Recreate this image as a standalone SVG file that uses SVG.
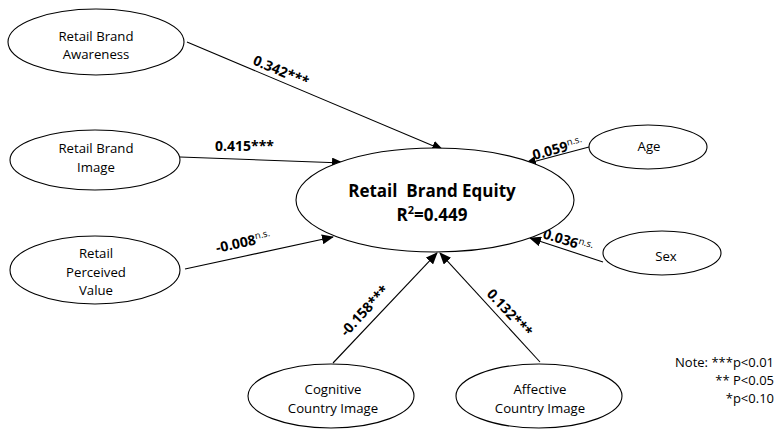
<svg xmlns="http://www.w3.org/2000/svg" width="779" height="430" viewBox="0 0 779 430">
<style>
.n{fill:#fff;stroke:#000;stroke-width:1.1}
.t{font-family:"Open Sans","Liberation Sans",sans-serif;font-size:13.2px;text-anchor:middle;fill:#000}
.c{font-family:"Open Sans","Liberation Sans",sans-serif;font-size:17px;font-weight:bold;text-anchor:middle;fill:#000}
.l{font-family:"Open Sans","Liberation Sans",sans-serif;font-size:14px;font-weight:bold;fill:#000}
.s{font-size:9.5px;font-weight:normal}
.e{stroke:#000;stroke-width:1.1;fill:none;marker-end:url(#ah)}
.note{font-family:"Open Sans","Liberation Sans",sans-serif;font-size:13px;text-anchor:end;fill:#000}
</style>
<defs>
<marker id="ah" markerUnits="userSpaceOnUse" markerWidth="12" markerHeight="10" refX="11" refY="5" orient="auto">
<path d="M0,0 L12,5 L0,10 Z" fill="#000"/>
</marker>
</defs>
<rect width="779" height="430" fill="#fff"/>
<g id="connectors">
<line class="e" x1="187" y1="42" x2="443" y2="150"/>
<line class="e" x1="180" y1="157" x2="343" y2="163"/>
<line class="e" x1="185" y1="269" x2="333" y2="237"/>
<line class="e" x1="589" y1="147" x2="525" y2="164"/>
<line class="e" x1="603" y1="262" x2="530" y2="238"/>
<line class="e" x1="333" y1="363" x2="437" y2="253"/>
<line class="e" x1="540" y1="362" x2="440" y2="253"/>
</g>
<g id="labels">
<text class="l" transform="translate(252,64) rotate(23)">0.342***</text>
<text class="l" x="215" y="151">0.415***</text>
<text class="l" transform="translate(217,253) rotate(-12.6)">-0.008<tspan class="s" dy="-5">n.s.</tspan></text>
<text class="l" transform="translate(534,160) rotate(-15)">0.059<tspan class="s" dy="-5">n.s.</tspan></text>
<text class="l" transform="translate(542,238) rotate(17)">0.036<tspan class="s" dy="-5">n.s.</tspan></text>
<text class="l" text-anchor="middle" transform="translate(368,314) rotate(-47)">-0.158***</text>
<text class="l" text-anchor="middle" transform="translate(506,316) rotate(47)">0.132***</text>
</g>
<g id="awareness">
<ellipse class="n" cx="96" cy="42" rx="88" ry="33"/>
<text class="t" x="96" y="41">Retail Brand</text>
<text class="t" x="96" y="59">Awareness</text>
</g>
<g id="image">
<ellipse class="n" cx="95" cy="160" rx="85" ry="30"/>
<text class="t" x="96" y="153">Retail Brand</text>
<text class="t" x="96" y="172">Image</text>
</g>
<g id="value">
<ellipse class="n" cx="95" cy="270" rx="85" ry="34"/>
<text class="t" x="96" y="258">Retail</text>
<text class="t" x="96" y="277">Perceived</text>
<text class="t" x="96" y="295">Value</text>
</g>
<g id="equity">
<ellipse class="n" cx="435" cy="200" rx="139" ry="52"/>
<text class="c" x="432" y="197">Retail&#160; Brand Equity</text>
<text class="c" x="432" y="221">R<tspan font-size="11" dy="-7">2</tspan><tspan dy="7">=0.449</tspan></text>
</g>
<g id="age">
<ellipse class="n" cx="648" cy="147" rx="59" ry="22"/>
<text class="t" x="649" y="151">Age</text>
</g>
<g id="sex">
<ellipse class="n" cx="662" cy="253" rx="59" ry="22"/>
<text class="t" x="666" y="261">Sex</text>
</g>
<g id="cognitive">
<ellipse class="n" cx="331" cy="396" rx="83" ry="32"/>
<text class="t" x="333" y="394">Cognitive</text>
<text class="t" x="333" y="413">Country Image</text>
</g>
<g id="affective">
<ellipse class="n" cx="539" cy="396" rx="83" ry="32"/>
<text class="t" x="540" y="394">Affective</text>
<text class="t" x="540" y="413">Country Image</text>
</g>
<g id="note">
<text class="note" x="774" y="367">Note: ***p&lt;0.01</text>
<text class="note" x="774" y="385">** P&lt;0.05</text>
<text class="note" x="774" y="403">*p&lt;0.10</text>
</g>
</svg>
